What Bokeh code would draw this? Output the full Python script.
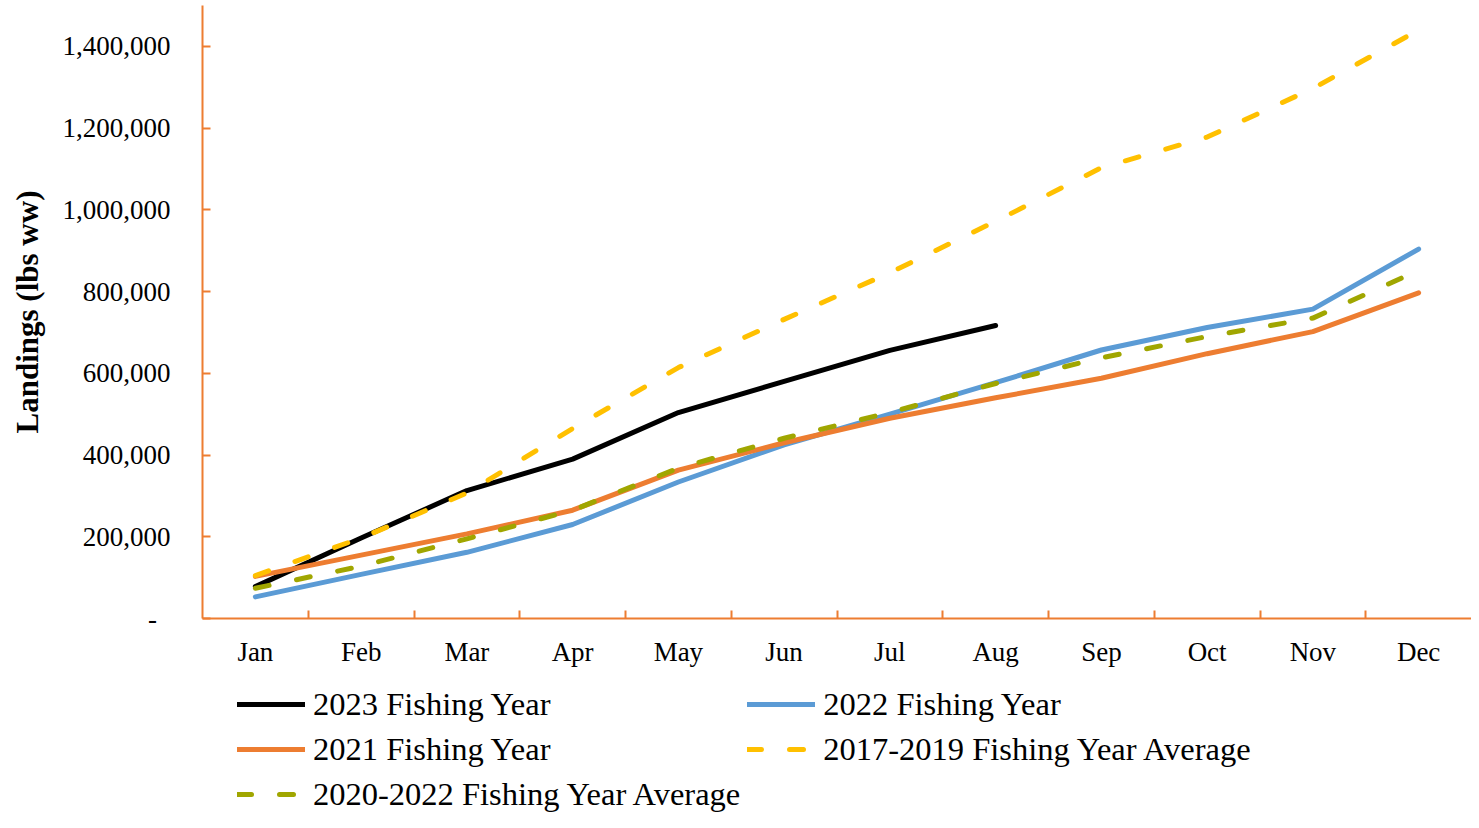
import numpy as np
from bokeh.plotting import figure
from bokeh.layouts import column
from bokeh.models import Range1d, FixedTicker, NumeralTickFormatter, Legend, LegendItem
from bokeh.embed import file_html
from bokeh.resources import INLINE

months = ["Jan", "Feb", "Mar", "Apr", "May", "Jun", "Jul", "Aug", "Sep", "Oct", "Nov", "Dec"]
y_ticks = [0, 200000, 400000, 600000, 800000, 1000000, 1200000, 1400000]

fy2023 = [78000, 197000, 313000, 390000, 504000, 580000, 656000, 717000]
fy2022 = [53000, 108000, 162000, 230000, 334000, 425000, 500000, 577000, 657000, 712000, 757000, 904000]
fy2021 = [103000, 155000, 207000, 265000, 363000, 430000, 490000, 540000, 588000, 648000, 702000, 797000]
avg_2017_2019 = [105000, 197000, 307000, 465000, 614000, 732000, 846000, 972000, 1103000, 1178000, 1297000, 1440000]
avg_2020_2022 = [74000, 128000, 195000, 265000, 368000, 441000, 504000, 575000, 638000, 690000, 735000, 852000]

series = [
    ("2023 Fishing Year", fy2023, "#000000", "solid"),
    ("2022 Fishing Year", fy2022, "#5B9BD5", "solid"),
    ("2021 Fishing Year", fy2021, "#ED7D31", "solid"),
    ("2017-2019 Fishing Year Average", avg_2017_2019, "#FFC000", "14 28"),
    ("2020-2022 Fishing Year Average", avg_2020_2022, "#A0A600", "14 28"),
]

AXIS = "#ED7D31"
FONT = "Liberation Serif"
W = 1471

centers = [i + 0.5 for i in range(len(months))]
bounds = [float(i) for i in range(1, len(months))]

p = figure(width=W, height=680, x_range=Range1d(0, len(months)), y_range=Range1d(0, 1500000),
           output_backend="svg", toolbar_location=None,
           min_border_left=202, min_border_top=5, min_border_right=0, min_border_bottom=62)
p.outline_line_color = None
p.xgrid.visible = False
p.ygrid.visible = False

for name, vals, color, dash in series:
    xs = centers[:len(vals)]
    p.line(xs, vals, line_color=color, line_width=5, line_dash=dash, line_cap="round", line_join="round")

# x axis
xa = p.xaxis[0]
xa.ticker = FixedTicker(ticks=centers, minor_ticks=bounds)
xa.major_label_overrides = {c: m for c, m in zip(centers, months)}
xa.major_tick_line_color = None
xa.major_tick_in = 0
xa.major_tick_out = 0
xa.minor_tick_line_color = AXIS
xa.minor_tick_line_width = 2
xa.minor_tick_in = 8
xa.minor_tick_out = 0
xa.axis_line_color = AXIS
xa.axis_line_width = 2
xa.major_label_text_font = FONT
xa.major_label_text_font_size = "27px"
xa.major_label_text_color = "black"
xa.major_label_standoff = 18

# y axis
ya = p.yaxis[0]
ya.ticker = FixedTicker(ticks=y_ticks)
ya.formatter = NumeralTickFormatter(format="0,0")
ya.major_label_overrides = {0: "-\u00a0\u00a0"}
ya.major_tick_line_color = AXIS
ya.major_tick_line_width = 2
ya.major_tick_in = 8
ya.major_tick_out = 0
ya.minor_tick_line_color = None
ya.axis_line_color = AXIS
ya.axis_line_width = 2
ya.major_label_text_font = FONT
ya.major_label_text_font_size = "27px"
ya.major_label_text_color = "black"
ya.major_label_standoff = 32
ya.axis_label = "Landings (lbs ww)"
ya.axis_label_text_font = FONT
ya.axis_label_text_font_size = "31px"
ya.axis_label_text_font_style = "bold"
ya.axis_label_text_color = "black"
ya.axis_label_standoff = 15

# legend panel (series drawn again but outside its visible range; only the legend shows)
pl = figure(width=W, height=132, x_range=Range1d(0, len(months)), y_range=Range1d(-2, -1),
            output_backend="svg", toolbar_location=None,
            min_border_left=0, min_border_top=0, min_border_right=0, min_border_bottom=0)
pl.axis.visible = False
pl.grid.visible = False
pl.outline_line_color = None
items = []
for name, vals, color, dash in series:
    xs = centers[:len(vals)]
    r = pl.line(xs, vals, line_color=color, line_width=5, line_dash=dash, line_cap="round", line_join="round")
    items.append(LegendItem(label=name, renderers=[r]))

legend = Legend(items=items, orientation="horizontal", ncols=2, location=(35, -1),
                margin=0, padding=0, spacing=7,
                glyph_width=68, glyph_height=38, label_height=38, label_standoff=8,
                label_text_font=FONT, label_text_font_size="32.5px", label_text_color="black",
                border_line_color=None, background_fill_alpha=0)
pl.add_layout(legend, "center")

layout = column(p, pl, spacing=0)
open("out.html", "w").write(file_html(layout, INLINE))
